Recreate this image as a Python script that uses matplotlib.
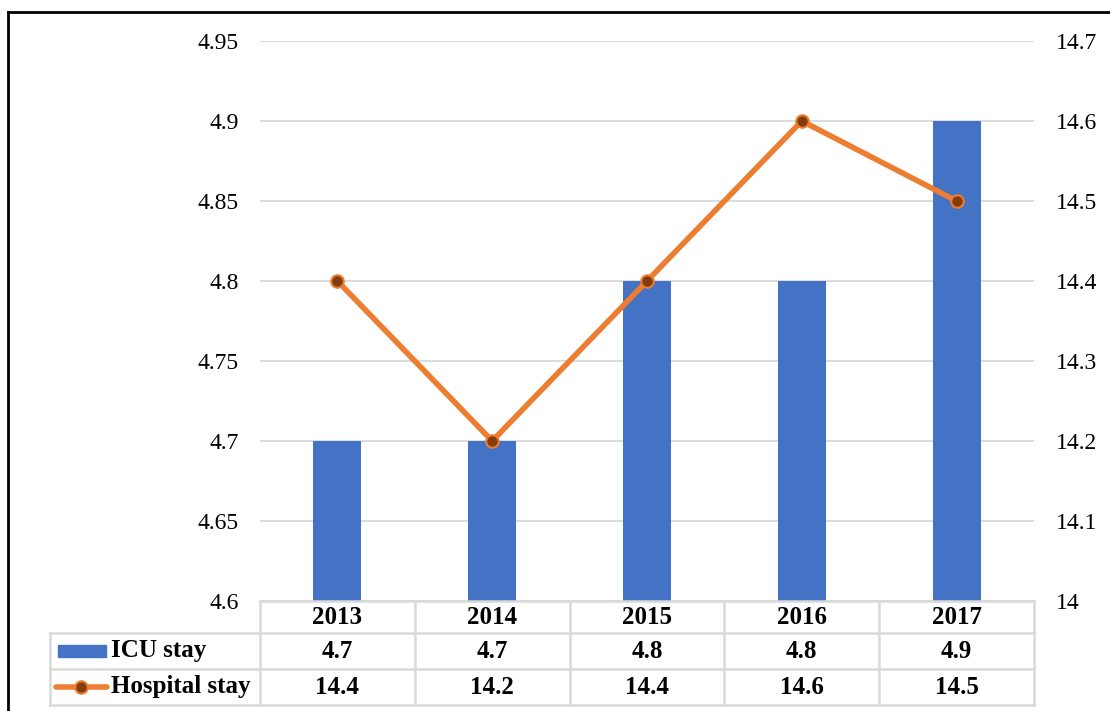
import matplotlib
matplotlib.use("Agg")
import matplotlib.pyplot as plt
from matplotlib.lines import Line2D
from matplotlib.patches import Rectangle
import numpy as np

plt.rcParams['font.family'] = ['Liberation Serif', 'DejaVu Serif']

years = ["2013", "2014", "2015", "2016", "2017"]
icu_stay = [4.7, 4.7, 4.8, 4.8, 4.9]
hospital_stay = [14.4, 14.2, 14.4, 14.6, 14.5]
series_names = ["ICU stay", "Hospital stay"]
left_ticks = [4.6, 4.65, 4.7, 4.75, 4.8, 4.85, 4.9, 4.95]
right_ticks = [14.0, 14.1, 14.2, 14.3, 14.4, 14.5, 14.6, 14.7]

BLUE = "#4472C4"
ORANGE = "#ED7D31"
MARK = "#843C0C"
GRID = "#D9D9D9"
TICK_FS = 17
TBL_FS = 18

W, H = 1110, 711
fig = plt.figure(figsize=(W / 100, H / 100), dpi=100)

def fx(px):
    return px / W

def fy(py):
    return 1 - py / H

# plot area in pixels
L, R, T, B = 260, 1034, 41, 601
ax = fig.add_axes([fx(L), fy(B), fx(R) - fx(L), fy(T) - fy(B)])
x = np.arange(len(years))
ax.bar(x, icu_stay, width=0.31, color=BLUE, zorder=2)
ax.set_xlim(-0.5, len(years) - 0.5)
ax.set_ylim(left_ticks[0], left_ticks[-1])
ax.set_yticks(left_ticks)
ax.set_yticklabels([f"{v:g}" for v in left_ticks], fontsize=TICK_FS)
ax.tick_params(axis='y', length=0, pad=15.5)
ax.set_xticks([])
ax.grid(axis='y', color=GRID, linewidth=1.3, zorder=0)
for s in ax.spines.values():
    s.set_visible(False)

ax2 = ax.twinx()
ax2.plot(x, hospital_stay, color=ORANGE, linewidth=4, marker='o', markersize=9,
         markerfacecolor=MARK, markeredgecolor=ORANGE, markeredgewidth=1.5,
         solid_capstyle='round', zorder=3)
ax2.set_ylim(right_ticks[0], right_ticks[-1])
ax2.set_yticks(right_ticks)
ax2.set_yticklabels([f"{v:g}" for v in right_ticks], fontsize=TICK_FS)
ax2.tick_params(axis='y', length=0, pad=16)
for s in ax2.spines.values():
    s.set_visible(False)

# data table
col_w = (R - L) / len(years)
row_y = [601, 633, 669, 705]
line_kw = dict(color=GRID, linewidth=1.8, transform=fig.transFigure, clip_on=False)
tbl_left = 50
fig.add_artist(Line2D([fx(L), fx(R)], [fy(row_y[0])] * 2, **line_kw))
for yy in row_y[1:]:
    fig.add_artist(Line2D([fx(tbl_left), fx(R)], [fy(yy)] * 2, **line_kw))
fig.add_artist(Line2D([fx(tbl_left)] * 2, [fy(row_y[1]), fy(row_y[3])], **line_kw))
for i in range(len(years) + 1):
    xx = L + i * col_w
    fig.add_artist(Line2D([fx(xx)] * 2, [fy(row_y[0]), fy(row_y[3])], **line_kw))

txt_kw = dict(transform=fig.transFigure, fontsize=TBL_FS, fontweight='bold',
              ha='center', va='center')
for i, yr in enumerate(years):
    cx = fx(L + (i + 0.5) * col_w)
    fig.text(cx, fy((row_y[0] + row_y[1]) / 2), yr, **txt_kw)
    fig.text(cx, fy((row_y[1] + row_y[2]) / 2), f"{icu_stay[i]:g}", **txt_kw)
    fig.text(cx, fy((row_y[2] + row_y[3]) / 2), f"{hospital_stay[i]:g}", **txt_kw)

# legend keys in table
r1 = (row_y[1] + row_y[2]) / 2
r2 = (row_y[2] + row_y[3]) / 2
fig.add_artist(Rectangle((fx(58), fy(r1 + 6)), fx(106) - fx(58), fy(r1 - 6) - fy(r1 + 6),
                         transform=fig.transFigure, color=BLUE))
fig.add_artist(Line2D([fx(56), fx(107)], [fy(r2)] * 2, color=ORANGE, linewidth=4,
                      solid_capstyle='round', transform=fig.transFigure))
fig.add_artist(Line2D([fx(81)], [fy(r2)], marker='o', markersize=9, markerfacecolor=MARK,
                      markeredgecolor=ORANGE, markeredgewidth=1.5, transform=fig.transFigure))
fig.text(fx(111), fy(r1), series_names[0], transform=fig.transFigure, fontsize=TBL_FS,
         fontweight='bold', ha='left', va='center')
fig.text(fx(111), fy(r2), series_names[1], transform=fig.transFigure, fontsize=TBL_FS,
         fontweight='bold', ha='left', va='center')

# outer frame (left and top edges)
frame_kw = dict(color='black', linewidth=2, transform=fig.transFigure, clip_on=False)
fig.add_artist(Line2D([fx(8), fx(8)], [fy(12), 0], **frame_kw))
fig.add_artist(Line2D([fx(8), 1], [fy(12), fy(12)], **frame_kw))

fig.savefig("out.png", dpi=100)
